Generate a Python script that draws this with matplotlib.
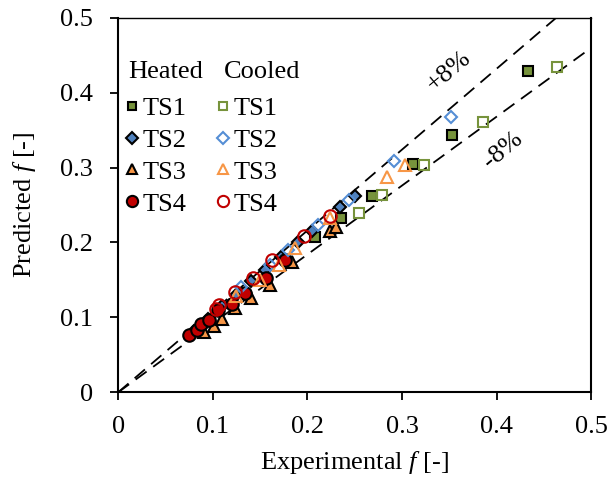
import numpy as np
import matplotlib
matplotlib.use('Agg')
import matplotlib.pyplot as plt
from matplotlib.lines import Line2D

plt.rcParams['font.family'] = ['Liberation Serif', 'DejaVu Serif']
plt.rcParams['mathtext.fontset'] = 'custom'
plt.rcParams['mathtext.rm'] = 'Liberation Serif'
plt.rcParams['mathtext.it'] = 'Liberation Serif:italic'

# (experimental, predicted) pairs
heated_ts1_x = [0.208, 0.235, 0.268, 0.312, 0.353, 0.433]
heated_ts1_y = [0.207, 0.232, 0.262, 0.305, 0.343, 0.429]
cooled_ts1_x = [0.255, 0.279, 0.323, 0.386, 0.464]
cooled_ts1_y = [0.240, 0.264, 0.303, 0.361, 0.434]

heated_ts2_x = [0.080, 0.095, 0.110, 0.125, 0.140, 0.155, 0.172, 0.190, 0.205, 0.234, 0.250]
heated_ts2_y = [0.082, 0.098, 0.115, 0.130, 0.148, 0.163, 0.180, 0.200, 0.215, 0.247, 0.262]
cooled_ts2_x = [0.130, 0.160, 0.180, 0.211, 0.244, 0.291, 0.352]
cooled_ts2_y = [0.140, 0.170, 0.190, 0.223, 0.257, 0.309, 0.367]

heated_ts3_x = [0.091, 0.101, 0.110, 0.123, 0.140, 0.160, 0.184, 0.224, 0.230]
heated_ts3_y = [0.080, 0.089, 0.098, 0.112, 0.126, 0.143, 0.174, 0.215, 0.221]
cooled_ts3_x = [0.125, 0.150, 0.170, 0.187, 0.224, 0.284, 0.303]
cooled_ts3_y = [0.128, 0.150, 0.170, 0.192, 0.233, 0.288, 0.303]

heated_ts4_x = [0.075, 0.083, 0.088, 0.096, 0.105, 0.120, 0.134, 0.156, 0.176]
heated_ts4_y = [0.077, 0.083, 0.091, 0.097, 0.110, 0.118, 0.133, 0.153, 0.176]
cooled_ts4_x = [0.103, 0.107, 0.124, 0.142, 0.163, 0.196, 0.224]
cooled_ts4_y = [0.111, 0.116, 0.134, 0.152, 0.177, 0.208, 0.236]

ticks = [0, 0.1, 0.2, 0.3, 0.4, 0.5]
tick_labels = ['0', '0.1', '0.2', '0.3', '0.4', '0.5']

green = '#77933C'
blue = '#4F81BD'
light_blue = '#558ED5'
orange = '#F79646'
red = '#C00000'
fs = 19

fig = plt.figure(figsize=(6.09, 4.79), dpi=100)
ax = fig.add_axes([0.194, 0.181, 0.777, 0.782])

# +/- 8% bands
xl = np.array([0, 0.5])
ax.plot(xl, 1.08 * xl, '--', color='black', lw=1.3, dashes=(7.5, 4.5), zorder=1)
ax.plot(xl, 0.92 * xl, '--', color='black', lw=1.3, dashes=(7.5, 4.5), zorder=1)

series = [
    (cooled_ts1_x, cooled_ts1_y, 's', 6.5, green, False),
    (cooled_ts2_x, cooled_ts2_y, 'D', 6.5, light_blue, False),
    (cooled_ts3_x, cooled_ts3_y, '^', 8.5, orange, False),
    (heated_ts1_x, heated_ts1_y, 's', 6.5, green, True),
    (heated_ts3_x, heated_ts3_y, '^', 8.5, orange, True),
    (heated_ts2_x, heated_ts2_y, 'D', 6.5, blue, True),
    (heated_ts4_x, heated_ts4_y, 'o', 9, red, True),
    (cooled_ts4_x, cooled_ts4_y, 'o', 9, red, False),
]
for x, y, m, ms, c, filled in series:
    if filled:
        ax.plot(x, y, m, ms=ms, mfc=c, mec='black', mew=1.5, zorder=3)
    else:
        ax.plot(x, y, m, ms=ms, mfc='none', mec=c, mew=1.5, zorder=4)

ax.set_xlim(0, 0.5)
ax.set_ylim(0, 0.5)
ax.set_xticks(ticks)
ax.set_xticklabels(tick_labels)
ax.set_yticks(ticks)
ax.set_yticklabels(tick_labels)
ax.tick_params(direction='out', length=6, width=1.3, labelsize=fs)
ax.tick_params(axis='x', pad=11)
ax.tick_params(axis='y', pad=12)
for s in ['left', 'bottom', 'right']:
    ax.spines[s].set_linewidth(1.5)
ax.spines['top'].set_linewidth(1.0)

ax.set_xlabel('Experimental $\\it{f}$ [-]', fontsize=fs, labelpad=8)
ax.set_ylabel('Predicted $\\it{f}$ [-]', fontsize=fs, labelpad=16)

ax.text(0.349, 0.429, '+8%', fontsize=fs, rotation=40, ha='center', va='center')
ax.text(0.407, 0.323, '-8%', fontsize=fs, rotation=40, ha='center', va='center')

# legend: headers as text, entries through legend
ax.text(0.011, 0.427, 'Heated', fontsize=fs, ha='left', va='center')
ax.text(0.112, 0.427, 'Cooled', fontsize=fs, ha='left', va='center')

def h(m, ms, c, filled):
    if filled:
        return Line2D([], [], ls='none', marker=m, ms=ms * 0.9, mfc=c, mec='black', mew=1.5)
    return Line2D([], [], ls='none', marker=m, ms=ms * 0.9, mfc='none', mec=c, mew=1.5)

handles = [h('s', 6.5, green, True), h('D', 6.5, blue, True), h('^', 8.5, orange, True), h('o', 9, red, True),
           h('s', 6.5, green, False), h('D', 6.5, light_blue, False), h('^', 8.5, orange, False), h('o', 9, red, False)]
labels = ['TS1', 'TS2', 'TS3', 'TS4'] * 2
ax.legend(handles, labels, ncol=2, loc='upper left', bbox_to_anchor=(0.019, 0.79),
          frameon=False, fontsize=fs, handlelength=0.4, handletextpad=0.2,
          columnspacing=1.15, labelspacing=0.32, borderpad=0, borderaxespad=0)

fig.savefig('out.png', dpi=100)
